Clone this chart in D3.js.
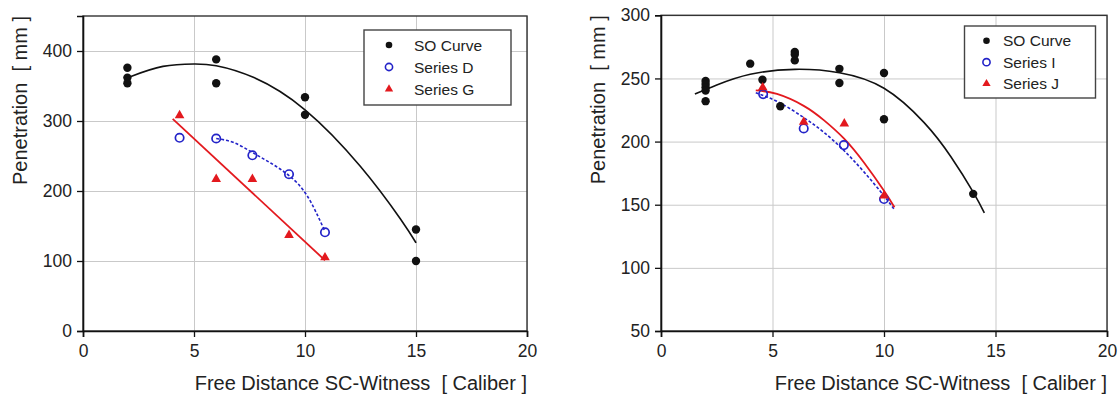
<!DOCTYPE html>
<html><head><meta charset="utf-8">
<script src="https://cdn.jsdelivr.net/npm/d3@7"></script>
<style>
body{margin:0;background:#fff;}
svg text{font-family:"Liberation Sans",Arial,Helvetica,sans-serif;fill:#222;white-space:pre;}
</style>
</head><body>
<svg id="chart" width="1118" height="394"></svg>
<script>
// ---------- shared tick labels & titles ----------
const xTicks = [0, 5, 10, 15, 20];
const leftYTicks = [0, 100, 200, 300, 400];
const rightYTicks = [50, 100, 150, 200, 250, 300];
const xTitle = "Free Distance SC-Witness  [ Caliber ]";
const yTitle = "Penetration  [ mm ]";

// ---------- left panel data ----------
const leftLegend = ["SO Curve", "Series D", "Series G"];
const leftSO = [[2,376],[2,362],[2,354],[6,388],[6,354],[10,334],[10,309],[15,145],[15,100]];
const leftSOFit = [[2.1,363],[3.6,378],[5,381.5],[6,379],[7.7,362],[10,316],[12.5,235],[14.3,160],[15,126]];
const leftD = [[4.35,276],[6,275],[7.63,251],[9.28,224],[10.9,141]];
const leftDFit = [[6,275],[6.8,269],[7.63,255],[8.45,240],[9.28,222],[10.1,193],[10.9,142]];
const leftG = [[4.35,308],[6,217],[7.63,217],[9.28,137],[10.9,105]];
const leftGFit = [[4.04,303],[10.9,101]];

// ---------- right panel data ----------
const rightLegend = ["SO Curve", "Series I", "Series J"];
const rightSO = [[2,248],[2,245.5],[2,243],[2,240.5],[2,232],[4,261.7],[4.55,249],[5.35,228],[6,271],[6,269],[6,264.3],[8,257.6],[8,246.4],[10,254.3],[10,217.7],[14,158.6]];
const rightSOFit = [[1.52,237.6],[2.5,244.8],[4,253.3],[6,257.2],[8,254.5],[10,242.2],[11.8,215],[13,188],[14,160],[14.5,143.5]];
const rightI = [[4.58,237.6],[6.4,210.4],[8.2,197.2],[10,154.5]];
const rightIFit = [[4.25,238.7],[5.3,231],[6.4,219],[7.3,207.4],[8.2,193],[9.1,176],[10,157],[10.47,146]];
const rightJ = [[4.56,242.8],[6.4,215.6],[8.22,214.2],[10,157.2]];
const rightJFit = [[4.25,240.5],[5.2,237.7],[6.4,228.3],[7.3,217],[8.2,202.5],[9.1,183.4],[10,161],[10.47,148]];

const BLACK = "#111", BLUE = "#2323c8", RED = "#e3191e";
const svg = d3.select("#chart");

function drawPanel(cfg) {
  const x = d3.scaleLinear().domain([0, 20]).range(cfg.xr);
  const y = d3.scaleLinear().domain(cfg.yd).range(cfg.yr);
  const [x0, x1] = cfg.xr, [yb, yt] = cfg.yr;
  const g = svg.append("g");

  // grid
  g.append("g").attr("transform", `translate(0,${yb})`)
    .call(d3.axisBottom(x).tickValues(xTicks).tickSize(-(yb - yt)).tickFormat(""))
    .call(s => { s.select(".domain").remove(); s.selectAll("line").attr("stroke", "#c9c9c9").attr("stroke-width", 1); });
  g.append("g").attr("transform", `translate(${x0},0)`)
    .call(d3.axisLeft(y).tickValues(cfg.yTicks).tickSize(-(x1 - x0)).tickFormat(""))
    .call(s => { s.select(".domain").remove(); s.selectAll("line").attr("stroke", "#c9c9c9").attr("stroke-width", 1); });

  // frame
  g.append("rect").attr("x", x0).attr("y", yt).attr("width", x1 - x0).attr("height", yb - yt)
    .attr("fill", "none").attr("stroke", "#333").attr("stroke-width", 1.4);

  // axes
  const ax = g.append("g").attr("transform", `translate(0,${yb})`)
    .call(d3.axisBottom(x).tickValues(xTicks).tickSize(6).tickPadding(8));
  const ay = g.append("g").attr("transform", `translate(${x0},0)`)
    .call(d3.axisLeft(y).tickValues(cfg.yTicks).tickSize(6).tickPadding(5));
  [ax, ay].forEach(a => {
    a.select(".domain").attr("stroke", "#111").attr("stroke-width", 1.6);
    a.selectAll(".tick line").attr("stroke", "#111").attr("stroke-width", 1.3);
    a.selectAll(".tick text").style("font-size", "17.5px").attr("fill", "#222");
  });

  // titles
  g.append("text").attr("x", x1).attr("y", 390).attr("text-anchor", "end")
    .style("font-size", "20px").text(xTitle);
  g.append("text").attr("transform", `translate(${x0 - 56},${yt}) rotate(-90)`)
    .attr("text-anchor", "end").style("font-size", "20px").text(yTitle);

  // fitted curves
  const line = d3.line().x(d => x(d[0])).y(d => y(d[1])).curve(d3.curveNatural);
  g.append("path").attr("d", line(cfg.soFit)).attr("fill", "none").attr("stroke", BLACK).attr("stroke-width", 1.6);
  g.append("path").attr("d", line(cfg.bFit)).attr("fill", "none").attr("stroke", BLUE).attr("stroke-width", 1.6).attr("stroke-dasharray", "3,2");
  g.append("path").attr("d", line(cfg.rFit)).attr("fill", "none").attr("stroke", RED).attr("stroke-width", 1.8);

  // markers
  g.selectAll(null).data(cfg.so).enter().append("circle")
    .attr("cx", d => x(d[0])).attr("cy", d => y(d[1])).attr("r", 4.2).attr("fill", BLACK);
  g.selectAll(null).data(cfg.b).enter().append("circle")
    .attr("cx", d => x(d[0])).attr("cy", d => y(d[1])).attr("r", 4.2)
    .attr("fill", "none").attr("stroke", BLUE).attr("stroke-width", 1.7);
  const tri = d3.symbol().type(d3.symbolTriangle).size(40);
  g.selectAll(null).data(cfg.r).enter().append("path")
    .attr("d", tri).attr("transform", d => `translate(${x(d[0])},${y(d[1])})`).attr("fill", RED);

  // legend
  const L = cfg.legend;
  const lg = g.append("g");
  lg.append("rect").attr("x", L.x).attr("y", L.y).attr("width", L.w).attr("height", L.h)
    .attr("fill", "#fff").attr("stroke", "#444").attr("stroke-width", 1.4);
  cfg.legendLabels.forEach((lab, i) => {
    const cy = L.y + L.first + i * L.step, mx = L.x + L.mx;
    if (i === 0) lg.append("circle").attr("cx", mx).attr("cy", cy).attr("r", 3.3).attr("fill", BLACK);
    if (i === 1) lg.append("circle").attr("cx", mx).attr("cy", cy).attr("r", 3.6).attr("fill", "none").attr("stroke", BLUE).attr("stroke-width", 1.6);
    if (i === 2) lg.append("path").attr("d", d3.symbol().type(d3.symbolTriangle).size(30)).attr("transform", `translate(${mx},${cy})`).attr("fill", RED);
    lg.append("text").attr("x", L.x + L.tx).attr("y", cy).attr("dy", "0.36em")
      .style("font-size", "15.5px").text(lab);
  });
}

drawPanel({
  xr: [83, 527], yr: [331, 16], yd: [0, 450], yTicks: leftYTicks,
  so: leftSO, soFit: leftSOFit, b: leftD, bFit: leftDFit, r: leftG, rFit: leftGFit,
  legendLabels: leftLegend,
  legend: { x: 364, y: 30, w: 147, h: 75, first: 15, step: 22, mx: 25, tx: 50 }
});
drawPanel({
  xr: [661, 1107], yr: [331, 15.3], yd: [50, 300], yTicks: rightYTicks,
  so: rightSO, soFit: rightSOFit, b: rightI, bFit: rightIFit, r: rightJ, rFit: rightJFit,
  legendLabels: rightLegend,
  legend: { x: 964.5, y: 26, w: 131, h: 72, first: 14.7, step: 21.5, mx: 22, tx: 38.5 }
});
</script>
</body></html>
